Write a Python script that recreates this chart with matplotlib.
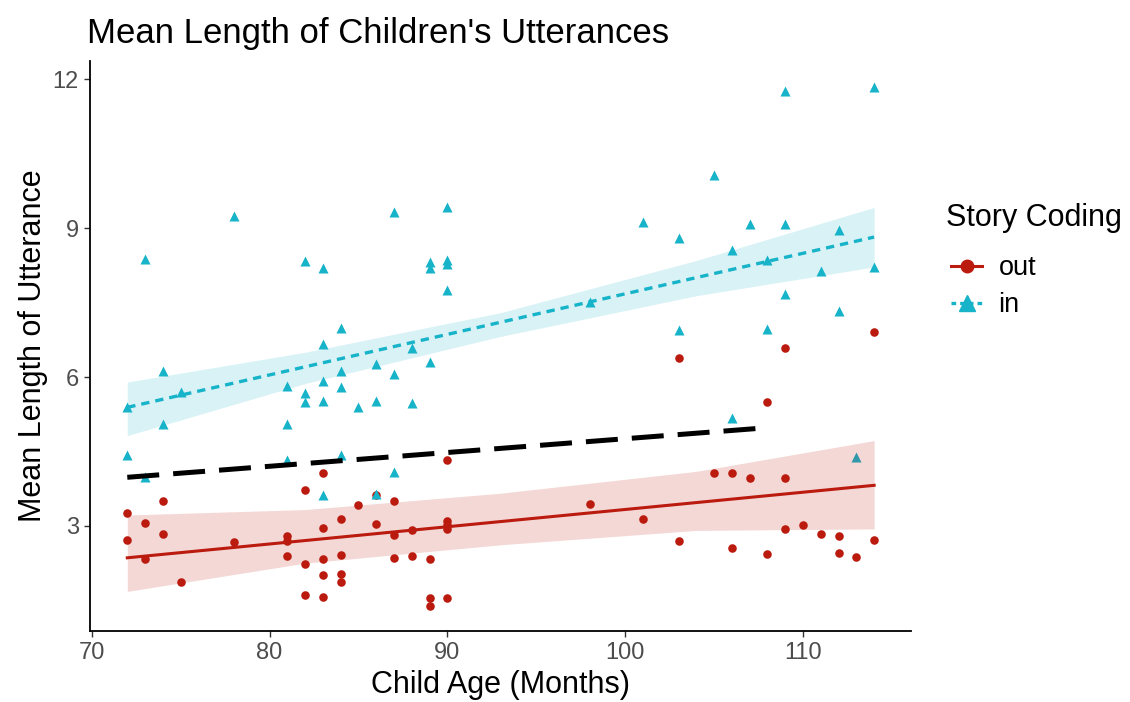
import numpy as np
import matplotlib
matplotlib.use('Agg')
import matplotlib.pyplot as plt
from matplotlib.lines import Line2D

plt.rcParams['font.family'] = ['Liberation Sans', 'DejaVu Sans']

# story coded "in" (triangles)
age_in = [72, 72, 73, 73, 74, 74, 75, 78, 81, 81, 81, 82, 82, 82,
          83, 83, 83, 83, 83, 84, 84, 84, 84, 85, 86, 86, 86, 87, 87, 87,
          88, 88, 89, 89, 89, 90, 90, 90, 90, 98, 101, 103, 103, 105,
          106, 106, 107, 108, 108, 109, 109, 109, 111, 112, 112, 113, 114, 114]
mlu_in = [5.39, 4.42, 8.39, 3.99, 6.13, 5.05, 5.69, 9.24, 5.83, 5.05, 4.32, 8.35, 5.67, 5.49,
          8.20, 6.67, 5.92, 5.52, 3.62, 6.99, 6.12, 5.80, 4.42, 5.39, 6.27, 5.52, 3.65, 9.33, 6.07, 4.09,
          6.59, 5.47, 8.33, 8.19, 6.30, 9.43, 8.37, 8.27, 7.75, 7.51, 9.12, 8.81, 6.95, 10.07,
          8.57, 5.17, 9.08, 8.37, 6.97, 11.77, 9.08, 7.67, 8.13, 8.97, 7.34, 4.39, 11.85, 8.22]

# story coded "out" (circles)
age_out = [72, 72, 73, 73, 74, 74, 75, 78, 81, 81, 81, 82, 82, 82,
           83, 83, 83, 83, 83, 84, 84, 84, 84, 85, 86, 86, 87, 87, 87,
           88, 88, 89, 89, 89, 90, 90, 90, 90, 90, 98, 101, 103, 103, 105,
           106, 106, 107, 108, 108, 109, 109, 109, 110, 111, 112, 112, 113, 114, 114]
mlu_out = [3.27, 2.72, 3.05, 2.33, 3.50, 2.83, 1.87, 2.67, 2.79, 2.70, 2.39, 3.73, 2.24, 1.60,
           4.07, 2.95, 2.33, 2.02, 1.57, 3.14, 2.42, 2.04, 1.87, 3.42, 3.62, 3.03, 3.50, 2.82, 2.35,
           2.91, 2.40, 2.33, 1.54, 1.39, 4.33, 3.09, 3.02, 2.93, 1.54, 3.45, 3.14, 6.39, 2.69, 4.07,
           4.07, 2.55, 3.97, 5.50, 2.44, 6.59, 3.97, 2.93, 3.01, 2.83, 2.80, 2.45, 2.37, 6.90, 2.72]

# confidence bands
band_age = [72, 82, 93, 104, 114]
out_hi = [3.22, 3.33, 3.66, 4.10, 4.72]
out_lo = [1.68, 2.25, 2.62, 2.91, 2.94]
in_hi = [5.90, 6.50, 7.30, 8.35, 9.42]
in_lo = [4.82, 5.87, 6.82, 7.64, 8.22]

# overall reference line (black dashed)
ref_age = [72, 108]
ref_mlu = [3.98, 4.98]

col_out = '#BB1A0E'
col_in = '#16B3C9'


def lm_line(x, y):
    b1, b0 = np.polyfit(x, y, 1)
    xs = np.array([min(x), max(x)], float)
    return xs, b0 + b1 * xs


fig = plt.figure(figsize=(11.3, 7.02), dpi=100)
ax = fig.add_axes([0.0796, 0.101, 0.727, 0.812])

ax.scatter(age_out, mlu_out, s=38, marker='o', color=col_out, linewidths=0, zorder=2)
ax.scatter(age_in, mlu_in, s=52, marker='^', color=col_in, linewidths=0, zorder=2)

ax.fill_between(band_age, out_lo, out_hi, color=col_out, alpha=0.17, linewidth=0, zorder=3)
xs, ys = lm_line(age_out, mlu_out)
ax.plot(xs, ys, color=col_out, lw=2.2, zorder=4)

ax.fill_between(band_age, in_lo, in_hi, color=col_in, alpha=0.16, linewidth=0, zorder=3)
xs, ys = lm_line(age_in, mlu_in)
ax.plot(xs, ys, color=col_in, lw=2.4, linestyle=(0, (2.5, 1.8)), zorder=4)

ax.plot(ref_age, ref_mlu, color='black', lw=3.6, linestyle=(0, (6.4, 2.8)), zorder=5)

ax.set_xlim(69.9, 116.1)
ax.set_ylim(0.88, 12.37)
ax.set_xticks([70, 80, 90, 100, 110])
ax.set_yticks([3, 6, 9, 12])
for side in ['top', 'right']:
    ax.spines[side].set_visible(False)
for side in ['left', 'bottom']:
    ax.spines[side].set_linewidth(1.3)
ax.tick_params(axis='both', length=4, width=1.0, color='#333333',
               labelsize=17, labelcolor='#4D4D4D', pad=4)

ax.set_xlabel('Child Age (Months)', fontsize=22, labelpad=4)
ax.set_ylabel('Mean Length of Utterance', fontsize=22, labelpad=3)
ax.set_title("Mean Length of Children's Utterances", fontsize=25, loc='left', x=-0.003, pad=13)

# legend: title as its own text so the gap to the keys matches
fig.text(946 / 1130, 1 - 218 / 702, 'Story Coding', fontsize=22, ha='left', va='center')
handles = [
    Line2D([], [], color=col_out, lw=2.2, marker='o', markersize=9, label='out'),
    Line2D([], [], color=col_in, lw=2.4, linestyle=(0, (1.4, 1.2)), marker='^',
           markersize=12, label='in'),
]
leg = fig.legend(handles=handles, loc='upper left',
                 bbox_to_anchor=(951 / 1130, 1 - 255 / 702), frameon=False, fontsize=19.5,
                 handlelength=1.15, handletextpad=0.6, labelspacing=0.42,
                 borderaxespad=0, borderpad=0)

fig.savefig('out.png', dpi=100)
